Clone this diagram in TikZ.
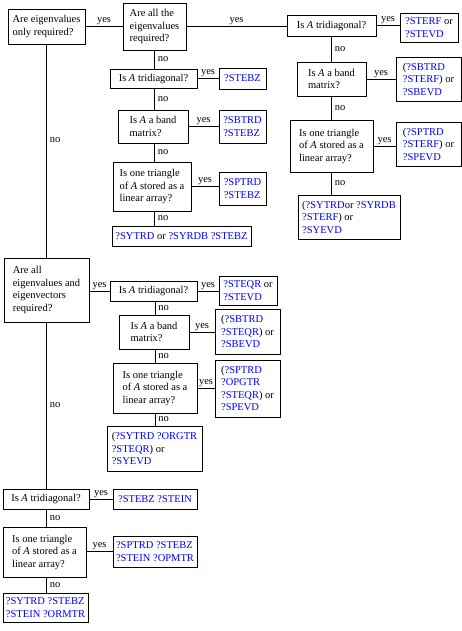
\documentclass[tikz,border=0pt]{standalone}
\usepackage{fontspec}
\setmainfont{Liberation Serif}
\usepackage{xcolor}
\usepackage{tikz}

\newcommand{\rout}[1]{\textcolor{blue}{#1}}

\begin{document}
\begin{tikzpicture}[x=1pt,y=-1pt,line width=0.8pt,
        every node/.style={font=\fontsize{10.5}{12.5}\selectfont},
        decision/.style 2 args={draw,align=left,inner sep=2pt,minimum width=#1,minimum height=#2},
        routine/.style 2 args={draw,align=left,inner sep=2pt,minimum width=#1,minimum height=#2},
        ylab/.style={above,inner sep=1pt},
        nlab/.style={right,inner sep=3pt}]
        
        \useasboundingbox (0,0) rectangle (462,631);
        
        % eigenvalues only
        \node[decision={77}{35}] (onlyeig) at (46.5,26.5) {Are eigenvalues\\only required?};
        \node[decision={63}{47}] (alleig) at (154.5,26.5) {Are all the\\eigenvalues\\required?};
        
        \node[decision={87}{19}] (trid1) at (153.5,78.5) {Is \textit{A} tridiagonal?};
        \node[decision={70}{33}] (band1) at (153,126.5) {Is \textit{A} a band\\matrix?};
        \node[decision={78}{49}] (pack1) at (152,186.5) {Is one triangle\\of \textit{A} stored as a\\linear array?};
        
        \node[routine={47}{21}] (stebz1) at (242.5,78.5) {\rout{?STEBZ}};
        \node[routine={47}{33}] (sbtrd1) at (242.5,126.5) {\rout{?SBTRD}\\\rout{?STEBZ}};
        \node[routine={47}{33}] (sptrd1) at (242.5,188.5) {\rout{?SPTRD}\\\rout{?STEBZ}};
        \node[routine={139}{20}] (sytrd1) at (181.5,236) {\rout{?SYTRD} or \rout{?SYRDB ?STEBZ}};
        
        \node[decision={89}{21}] (trid2) at (331.5,25.5) {Is \textit{A} tridiagonal?};
        \node[decision={69}{34}] (band2) at (331.5,79) {Is \textit{A} a band\\matrix?};
        \node[decision={83}{52}] (pack2) at (331.5,146) {Is one triangle\\of \textit{A} stored as a\\linear array?};
        
        \node[routine={58}{29}] (sterf) at (429,27.5) {\rout{?STERF} or\\\rout{?STEVD}};
        \node[routine={65}{44}] (sbtrd2) at (428.5,79) {(\rout{?SBTRD}\\\rout{?STERF}) or\\\rout{?SBEVD}};
        \node[routine={65}{44}] (sptrd2) at (428.5,144) {(\rout{?SPTRD}\\\rout{?STERF}) or\\\rout{?SPEVD}};
        \node[routine={102}{44}] (sytrd2) at (349,217) {(\rout{?SYTRD}or \rout{?SYRDB}\\\rout{?STERF}) or\\\rout{?SYEVD}};
        
        % eigenvalues and eigenvectors
        \node[decision={85}{64}] (alleigvec) at (46.5,290) {Are all\\eigenvalues and\\eigenvectors\\required?};
        \node[decision={87}{20}] (trid3) at (153.5,291) {Is \textit{A} tridiagonal?};
        \node[decision={70}{34}] (band3) at (154,332) {Is \textit{A} a band\\matrix?};
        \node[decision={84}{50}] (pack3) at (155,388) {Is one triangle\\of \textit{A} stored as a\\linear array?};
        
        \node[routine={58}{29}] (steqr) at (248,290.5) {\rout{?STEQR} or\\\rout{?STEVD}};
        \node[routine={65}{45}] (sbtrd3) at (247.5,331.5) {(\rout{?SBTRD}\\\rout{?STEQR}) or\\\rout{?SBEVD}};
        \node[routine={65}{57}] (sptrd3) at (247.5,388.5) {(\rout{?SPTRD}\\\rout{?OPGTR}\\\rout{?STEQR}) or\\\rout{?SPEVD}};
        \node[routine={95}{45}] (sytrd3) at (154.5,448.5) {(\rout{?SYTRD ?ORGTR}\\\rout{?STEQR}) or\\\rout{?SYEVD}};
        
        % selected eigenvectors
        \node[decision={86}{20}] (trid4) at (46,499) {Is \textit{A} tridiagonal?};
        \node[decision={83}{50}] (pack4) at (44.5,552) {Is one triangle\\of \textit{A} stored as a\\linear array?};
        
        \node[routine={84}{20}] (stein) at (155,499) {\rout{?STEBZ ?STEIN}};
        \node[routine={84}{31}] (sptrd4) at (155,551.5) {\rout{?SPTRD ?STEBZ}\\\rout{?STEIN ?OPMTR}};
        \node[routine={85}{29}] (sytrd4) at (45.5,607.5) {\rout{?SYTRD ?STEBZ}\\\rout{?STEIN ?ORMTR}};
        
        \draw (onlyeig.east) -- node[ylab] {yes} (alleig.west);
        \draw (alleig.east) -- node[ylab] {yes} (alleig.east -| trid2.west);
        \draw (onlyeig.south) -- node[nlab,pos=.45] {no} (onlyeig.south |- alleigvec.north);
        
        \draw (alleig.south) -- node[nlab] {no} (alleig.south |- trid1.north);
        \draw (alleig.south |- trid1.south) -- node[nlab] {no} (alleig.south |- band1.north);
        \draw (alleig.south |- band1.south) -- node[nlab] {no} (alleig.south |- pack1.north);
        \draw (alleig.south |- pack1.south) -- node[nlab] {no} (alleig.south |- sytrd1.north);
        \draw (trid1.east) -- node[ylab] {yes} (trid1.east -| stebz1.west);
        \draw (band1.east) -- node[ylab] {yes} (band1.east -| sbtrd1.west);
        \draw (pack1.east) -- node[ylab] {yes} (pack1.east -| sptrd1.west);
        
        \draw (trid2.east) -- node[ylab] {yes} (trid2.east -| sterf.west);
        \draw (trid2.south) -- node[nlab] {no} (band2.north);
        \draw (band2.south) -- node[nlab] {no} (pack2.north);
        \draw (pack2.south) -- node[nlab] {no} (pack2.south |- sytrd2.north);
        \draw (band2.east) -- node[ylab] {yes} (band2.east -| sbtrd2.west);
        \draw (pack2.east) -- node[ylab] {yes} (pack2.east -| sptrd2.west);
        
        \draw (alleigvec.east |- trid3) -- node[ylab] {yes} (trid3.west);
        \draw (trid3.east) -- node[ylab] {yes} (trid3.east -| steqr.west);
        \draw (band3.east) -- node[ylab] {yes} (band3.east -| sbtrd3.west);
        \draw (pack3.east) -- node[ylab] {yes} (pack3.east -| sptrd3.west);
        \draw (pack3.south |- trid3.south) -- node[nlab] {no} (pack3.south |- band3.north);
        \draw (pack3.south |- band3.south) -- node[nlab] {no} (pack3.north);
        \draw (pack3.south) -- node[nlab] {no} (pack3.south |- sytrd3.north);
        \draw (onlyeig.south |- alleigvec.south) -- node[nlab] {no} (onlyeig.south |- trid4.north);
        
        \draw (trid4.east) -- node[ylab] {yes} (stein.west);
        \draw (onlyeig.south |- trid4.south) -- node[nlab] {no} (onlyeig.south |- pack4.north);
        \draw (pack4.east |- sptrd4) -- node[ylab] {yes} (sptrd4.west);
        \draw (onlyeig.south |- pack4.south) -- node[nlab] {no} (onlyeig.south |- sytrd4.north);
        
\end{tikzpicture}
\end{document}
